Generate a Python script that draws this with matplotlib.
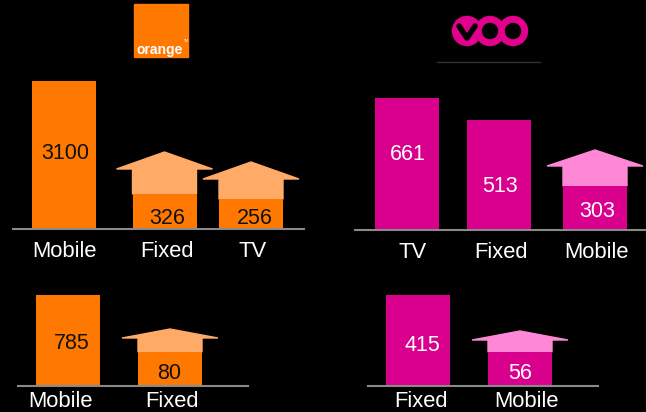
import matplotlib.pyplot as plt
from matplotlib.patches import Polygon, Rectangle, Circle

plt.rcParams['font.family'] = ['Liberation Sans', 'DejaVu Sans']

# Datos (alturas de barra leidas de la imagen, no proporcionales a los valores)
orange_top_cats = ["Mobile", "Fixed", "TV"]
orange_top_vals = [3100, 326, 256]
orange_top_bar_h = [148, 35, 30]
orange_top_arrow = [None, 77, 67]

voo_top_cats = ["TV", "Fixed", "Mobile"]
voo_top_vals = [661, 513, 303]
voo_top_bar_h = [132, 110, 44]
voo_top_arrow = [None, None, 80]

orange_bot_cats = ["Mobile", "Fixed"]
orange_bot_vals = [785, 80]
orange_bot_bar_h = [91, 34]
orange_bot_arrow = [None, 57]

voo_bot_cats = ["Fixed", "Mobile"]
voo_bot_vals = [415, 56]
voo_bot_bar_h = [91, 34]
voo_bot_arrow = [None, 55]

# Colores
ORANGE, ORANGE_LIGHT = "#FF7900", "#FFAA66"
MAGENTA, MAGENTA_LIGHT = "#D9008D", "#FF88D6"

W, H = 646, 412
fig = plt.figure(figsize=(W / 100, H / 100), dpi=100, facecolor="black")

# Logos
logo = fig.add_axes([0, 0, 1, 1])
logo.set_xlim(0, W)
logo.set_ylim(H, 0)
logo.axis("off")
logo.add_patch(Rectangle((134, 4), 54, 53, color=ORANGE))
logo.text(136.5, 53.5, "orange", color="white", fontsize=10, fontweight="bold",
          ha="left", va="baseline")
logo.text(184, 42, "TM", color="white", fontsize=2.5, ha="left", va="baseline")
for cx in [467, 490, 513]:
    logo.add_patch(Circle((cx, 31), 14.5, color="#E2008C"))
for cx in [490, 513]:
    logo.add_patch(Circle((cx, 31), 7.5, color="black"))
logo.plot([459, 467, 475], [26, 38, 26], color="black", lw=4, solid_capstyle="round")
logo.plot([437, 540], [62, 62], color="#333333", lw=1)

panels = [
    dict(box=(13, 304, 229, 70), cats=orange_top_cats, vals=orange_top_vals,
         bar_h=orange_top_bar_h, arrow=orange_top_arrow, centers=[64, 164.5, 251],
         color=ORANGE, light=ORANGE_LIGHT, txt="#111111", head=17,
         val_y=[69.7, 5, 5], val_dx=[1, 2.5, 4], lab_y=-27.7, lab_dx=[0, 2.5, 2]),
    dict(box=(355, 646, 230, 80), cats=voo_top_cats, vals=voo_top_vals,
         bar_h=voo_top_bar_h, arrow=voo_top_arrow, centers=[407, 499, 595],
         color=MAGENTA, light=MAGENTA_LIGHT, txt="white", head=16,
         val_y=[70, 38.3, 12.7], val_dx=[1, 1, 2], lab_y=-27.5, lab_dx=[6, 2, 2]),
    dict(box=(18, 248, 386, 285), cats=orange_bot_cats, vals=orange_bot_vals,
         bar_h=orange_bot_bar_h, arrow=orange_bot_arrow, centers=[68, 170],
         color=ORANGE, light=ORANGE_LIGHT, txt="#111111", head=9,
         val_y=[36.7, 7], val_dx=[4, -1], lab_y=-20.7, lab_dx=[-8, 2]),
    dict(box=(368, 598, 386, 285), cats=voo_bot_cats, vals=voo_bot_vals,
         bar_h=voo_bot_bar_h, arrow=voo_bot_arrow, centers=[417.5, 520],
         color=MAGENTA, light=MAGENTA_LIGHT, txt="white", head=9,
         val_y=[35, 7], val_dx=[4.5, 0], lab_y=-20.7, lab_dx=[3.5, 6]),
]

bar_w = 64
head_hw = 48

for p in panels:
    left, right, base, top = p["box"]
    ax = fig.add_axes([left / W, (H - base) / H, (right - left) / W, (base - top) / H])
    ax.set_xlim(left, right)
    ax.set_ylim(0, base - top)
    ax.patch.set_alpha(0)
    for s in ["top", "left", "right"]:
        ax.spines[s].set_visible(False)
    ax.spines["bottom"].set_color("#8a8a8a")
    ax.spines["bottom"].set_linewidth(1.5)
    ax.set_xticks([])
    ax.set_yticks([])

    ax.bar(p["centers"], p["bar_h"], width=bar_w, color=p["color"], zorder=2)

    for cx, h, peak in zip(p["centers"], p["bar_h"], p["arrow"]):
        if peak is None:
            continue
        shaft = peak - p["head"]
        pts = [(cx - bar_w / 2, h), (cx - bar_w / 2, shaft), (cx - head_hw, shaft),
               (cx, peak), (cx + head_hw, shaft), (cx + bar_w / 2, shaft),
               (cx + bar_w / 2, h)]
        ax.add_patch(Polygon(pts, closed=True, color=p["light"], zorder=1, clip_on=False))

    for cx, v, vy, dx in zip(p["centers"], p["vals"], p["val_y"], p["val_dx"]):
        ax.text(cx + dx, vy, str(v), color=p["txt"], fontsize=15.5,
                ha="center", va="baseline", zorder=3)

    for cx, c, dx in zip(p["centers"], p["cats"], p["lab_dx"]):
        ax.text(cx + dx, p["lab_y"], c, color="white", fontsize=15.8,
                ha="center", va="baseline", clip_on=False)

fig.savefig("out.png", dpi=100, facecolor="black")
